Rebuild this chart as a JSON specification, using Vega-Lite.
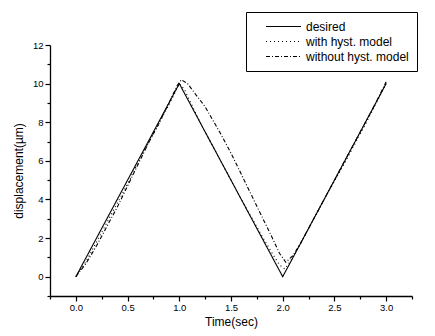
{
  "$schema": "https://vega.github.io/schema/vega-lite/v6.json",
  "width": 362,
  "height": 251,
  "autosize": "none",
  "padding": {"left": 50, "top": 45, "right": 23, "bottom": 40},
  "background": "white",
  "config": {
    "view": {"stroke": null},
    "font": "Liberation Sans",
    "axis": {
      "grid": false,
      "domainColor": "black",
      "domainWidth": 1.3,
      "tickColor": "black",
      "tickWidth": 1.2,
      "labelColor": "black",
      "labelFontSize": 9.5,
      "titleColor": "black",
      "titleFontSize": 12,
      "titleFontWeight": "normal"
    }
  },
  "data": {
    "values": [
      {"series": "desired", "t": 0, "d": 0},
      {"series": "desired", "t": 1, "d": 10},
      {"series": "desired", "t": 2, "d": 0},
      {"series": "desired", "t": 3, "d": 10},
      {"series": "with hyst. model", "t": 0, "d": 0},
      {"series": "with hyst. model", "t": 0.1, "d": 0.8},
      {"series": "with hyst. model", "t": 0.2, "d": 1.8},
      {"series": "with hyst. model", "t": 0.3, "d": 2.8},
      {"series": "with hyst. model", "t": 0.4, "d": 3.8},
      {"series": "with hyst. model", "t": 0.5, "d": 4.8},
      {"series": "with hyst. model", "t": 0.6, "d": 5.9},
      {"series": "with hyst. model", "t": 0.7, "d": 6.9},
      {"series": "with hyst. model", "t": 0.8, "d": 7.9},
      {"series": "with hyst. model", "t": 0.9, "d": 8.9},
      {"series": "with hyst. model", "t": 1.0, "d": 10.0},
      {"series": "with hyst. model", "t": 1.05, "d": 9.7},
      {"series": "with hyst. model", "t": 1.2, "d": 8.0},
      {"series": "with hyst. model", "t": 1.4, "d": 6.0},
      {"series": "with hyst. model", "t": 1.6, "d": 4.0},
      {"series": "with hyst. model", "t": 1.8, "d": 2.1},
      {"series": "with hyst. model", "t": 1.9, "d": 1.2},
      {"series": "with hyst. model", "t": 1.97, "d": 0.6},
      {"series": "with hyst. model", "t": 2.02, "d": 0.4},
      {"series": "with hyst. model", "t": 2.1, "d": 1.0},
      {"series": "with hyst. model", "t": 2.2, "d": 2.0},
      {"series": "with hyst. model", "t": 2.4, "d": 4.0},
      {"series": "with hyst. model", "t": 2.6, "d": 5.9},
      {"series": "with hyst. model", "t": 2.8, "d": 7.9},
      {"series": "with hyst. model", "t": 3.0, "d": 10.0},
      {"series": "without hyst. model", "t": 0, "d": 0},
      {"series": "without hyst. model", "t": 0.1, "d": 0.7},
      {"series": "without hyst. model", "t": 0.2, "d": 1.6},
      {"series": "without hyst. model", "t": 0.3, "d": 2.6},
      {"series": "without hyst. model", "t": 0.4, "d": 3.6},
      {"series": "without hyst. model", "t": 0.5, "d": 4.7},
      {"series": "without hyst. model", "t": 0.6, "d": 5.8},
      {"series": "without hyst. model", "t": 0.7, "d": 6.9},
      {"series": "without hyst. model", "t": 0.8, "d": 7.9},
      {"series": "without hyst. model", "t": 0.9, "d": 9.0},
      {"series": "without hyst. model", "t": 0.98, "d": 9.9},
      {"series": "without hyst. model", "t": 1.02, "d": 10.2},
      {"series": "without hyst. model", "t": 1.08, "d": 10.0},
      {"series": "without hyst. model", "t": 1.15, "d": 9.5},
      {"series": "without hyst. model", "t": 1.25, "d": 8.8},
      {"series": "without hyst. model", "t": 1.4, "d": 7.4},
      {"series": "without hyst. model", "t": 1.5, "d": 6.4},
      {"series": "without hyst. model", "t": 1.6, "d": 5.3},
      {"series": "without hyst. model", "t": 1.7, "d": 4.2},
      {"series": "without hyst. model", "t": 1.8, "d": 3.1},
      {"series": "without hyst. model", "t": 1.9, "d": 2.0},
      {"series": "without hyst. model", "t": 1.97, "d": 1.2},
      {"series": "without hyst. model", "t": 2.03, "d": 0.75},
      {"series": "without hyst. model", "t": 2.1, "d": 1.1},
      {"series": "without hyst. model", "t": 2.17, "d": 1.7},
      {"series": "without hyst. model", "t": 2.3, "d": 3.0},
      {"series": "without hyst. model", "t": 2.5, "d": 5.0},
      {"series": "without hyst. model", "t": 2.7, "d": 7.0},
      {"series": "without hyst. model", "t": 2.9, "d": 9.0},
      {"series": "without hyst. model", "t": 3.0, "d": 10.1}
    ]
  },
  "mark": {"type": "line", "color": "black", "strokeWidth": 1.1, "clip": false},
  "encoding": {
    "x": {
      "field": "t", "type": "quantitative",
      "scale": {"domain": [-0.25, 3.25], "nice": false, "zero": false},
      "axis": {
        "values": [-0.25, 0, 0.25, 0.5, 0.75, 1, 1.25, 1.5, 1.75, 2, 2.25, 2.5, 2.75, 3, 3.25],
        "labelExpr": "abs(datum.value % 0.5) < 0.001 ? format(datum.value, '.1f') : ''",
        "tickSize": {"condition": {"test": "abs(datum.value % 0.5) > 0.001", "value": 3}, "value": 5},
        "labelPadding": 1,
        "labelFlush": false,
        "labelOverlap": false,
        "title": "Time(sec)",
        "titlePadding": 5
      }
    },
    "y": {
      "field": "d", "type": "quantitative",
      "scale": {"domain": [-1, 12], "nice": false, "zero": false},
      "axis": {
        "values": [-1, 0, 1, 2, 3, 4, 5, 6, 7, 8, 9, 10, 11, 12],
        "labelExpr": "datum.value % 2 == 0 ? format(datum.value, 'd') : ''",
        "tickSize": {"condition": {"test": "datum.value % 2 != 0", "value": 3}, "value": 5},
        "labelPadding": 2,
        "labelFlush": false,
        "labelOverlap": false,
        "title": "displacement(µm)",
        "titlePadding": 7
      }
    },
    "strokeDash": {
      "field": "series", "type": "nominal",
      "scale": {
        "domain": ["desired", "with hyst. model", "without hyst. model"],
        "range": [[1, 0], [1, 3], [4, 2, 1, 2]]
      },
      "legend": {
        "title": null,
        "orient": "none",
        "legendX": 196,
        "legendY": -33,
        "strokeColor": "black",
        "fillColor": "white",
        "padding": 8,
        "symbolType": "M-3,0H3",
        "symbolSize": 136,
        "symbolStrokeColor": "black",
        "symbolStrokeWidth": 1.2,
        "symbolOffset": 23,
        "labelOffset": 16,
        "labelFontSize": 12,
        "labelColor": "black",
        "labelLimit": 300,
        "rowPadding": 2
      }
    }
  }
}
